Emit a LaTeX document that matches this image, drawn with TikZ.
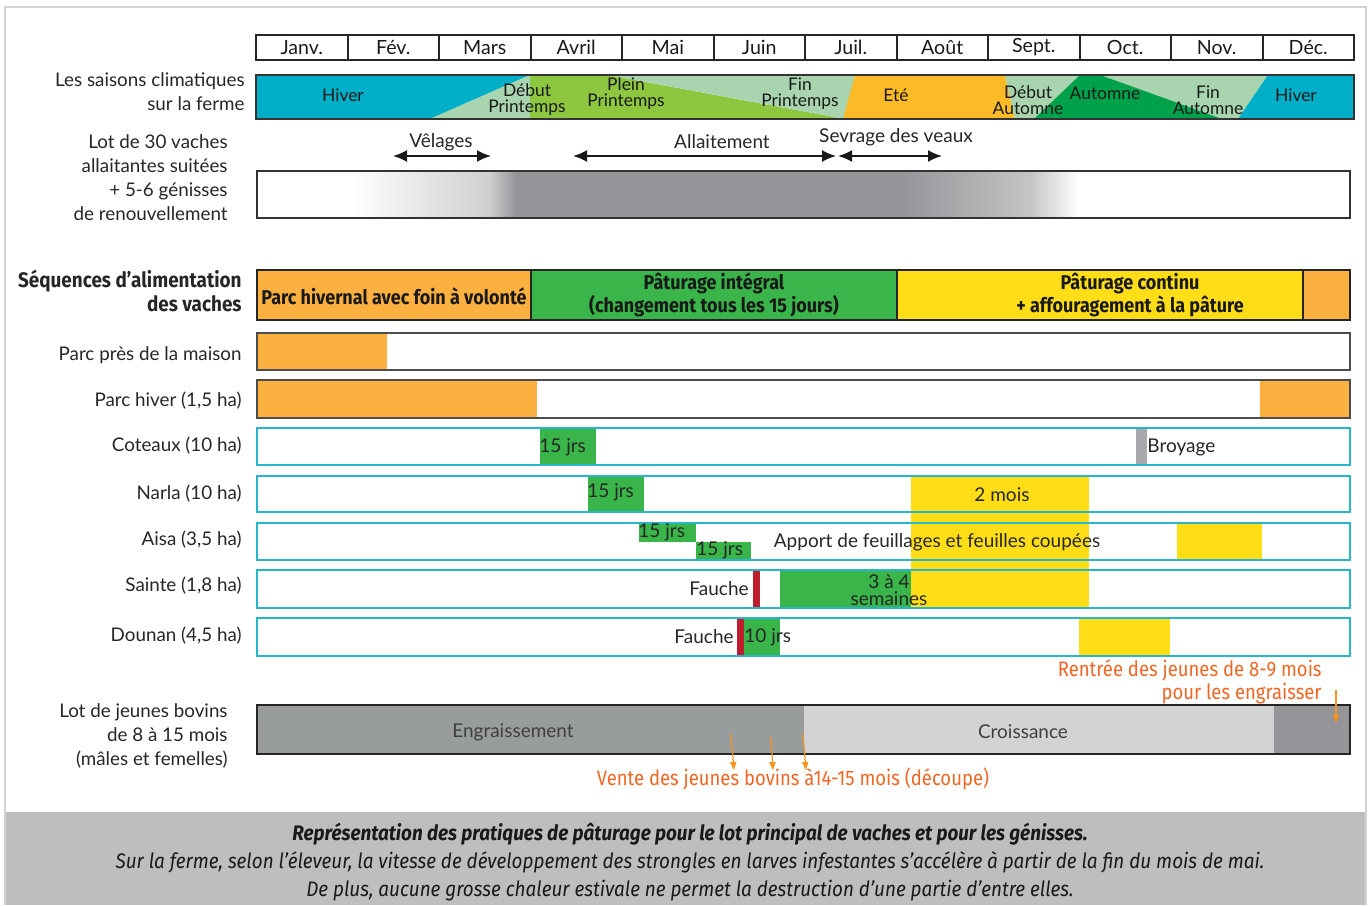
\documentclass[tikz,border=0pt]{standalone}
\usepackage{fontspec}
\setmainfont{Lato}
\newfontfamily\condfont[FakeStretch=0.9]{Fira Sans}
\newfontfamily\orfont[FakeStretch=0.88]{Fira Sans}
\newfontfamily\legfont[FakeStretch=0.9]{Fira Sans}
\usetikzlibrary{arrows.meta}

\definecolor{cyanHiver}{RGB}{0,174,199}
\definecolor{vertClair}{RGB}{168,213,176}
\definecolor{vertPrint}{RGB}{141,198,63}
\definecolor{vertAutom}{RGB}{0,161,75}
\definecolor{orangeEte}{RGB}{252,187,38}
\definecolor{orangeParc}{RGB}{251,176,64}
\definecolor{vertPat}{RGB}{57,181,74}
\definecolor{jaunePat}{RGB}{255,222,23}
\definecolor{grisBar}{RGB}{147,149,152}
\definecolor{grisFonce}{RGB}{153,156,156}
\definecolor{grisClair}{RGB}{209,211,212}
\definecolor{grisBroy}{RGB}{167,169,172}
\definecolor{bordCyan}{RGB}{40,182,204}
\definecolor{rougeFauche}{RGB}{190,30,45}
\definecolor{orangeTxt}{RGB}{241,101,34}
\definecolor{orangeFl}{RGB}{247,148,29}
\definecolor{grisLeg}{RGB}{188,190,192}

\begin{document}
\begin{tikzpicture}[x=0.5pt,y=-0.5pt,
  lbl/.style={align=right,anchor=east,inner sep=0pt,text=black!85,
    font=\fontsize{9.4}{12}\selectfont},
  saison/.style={align=center,inner sep=0pt,text=black!90,
    font=\fontsize{8.7}{8}\selectfont},
  etiq/.style={inner sep=0.5pt,text=black!85,font=\fontsize{9.5}{8.5}\selectfont},
  seq/.style={align=center,inner sep=0pt,text=black!90,
    font=\condfont\bfseries\fontsize{10}{11.5}\selectfont},
  fleche/.style={{Latex[length=7pt,width=6pt]}-{Latex[length=7pt,width=6pt]},
    line width=1pt,black!90},
  vente/.style={-{Latex[length=4.5pt,width=3.5pt]},orangeFl,line width=0.6pt},
  orangelbl/.style={inner sep=0pt,text=orangeTxt,font=\orfont\fontsize{10.5}{9}\selectfont},
  cadre/.style={draw=bordCyan,line width=0.9pt},
  cadregris/.style={draw=black!70,line width=0.9pt}]
\useasboundingbox (0,0) rectangle (1370,905);

% cadre general et bandeau de legende
\fill[grisLeg] (5,812) rectangle (1366,905);
\draw[grisClair,line width=1pt] (5,905) -- (5,7) -- (1366,7) -- (1366,905);

% les mois
\foreach \nom [count=\i from 0] in {Janv.,Fév.,Mars,Avril,Mai,Juin,Juil.,Août,Sept.,Oct.,Nov.,Déc.}
{
  \draw[black!85,line width=1pt] ({256+91.5*\i},35) rectangle ++(91.5,25);
  \node[inner sep=0pt,font=\fontsize{9.8}{10}\selectfont,text=black!90]
    (mois\i) at ({301.75+91.5*\i},47.5) {\nom};
}

% saisons climatiques
\fill[cyanHiver] (256,75) -- (530,75) -- (430,119) -- (256,119) -- cycle;
\fill[vertClair] (530,75) -- (430,119) -- (530,119) -- cycle;
\fill[vertPrint] (530,75) -- (608,75) -- (845,119) -- (530,119) -- cycle;
\fill[vertClair] (608,75) -- (855,75) -- (845,119) -- cycle;
\fill[orangeEte] (855,75) -- (1005,75) -- (1015,119) -- (843,119) -- cycle;
\fill[vertClair] (1005,75) -- (1268,75) -- (1238,119) -- (1015,119) -- cycle;
\fill[vertAutom] (1034,119) -- (1080,75) -- (1100,75) -- (1222,119) -- cycle;
\fill[cyanHiver] (1268,75) -- (1354,75) -- (1354,119) -- (1238,119) -- cycle;
\draw[black!80,line width=0.8pt] (256,75) rectangle (1354,119);

\node[saison] (hiver1) at (343,95) {Hiver};
\node[saison] (debPrint) at (527,100) {Début\\Printemps};
\node[saison] (pleinPrint) at (626,94) {Plein\\Printemps};
\node[saison] (finPrint) at (800,94) {Fin\\Printemps};
\node[saison] (ete) at (896,95) {Eté};
\node[saison] (debAutom) at (1028,100) {Début\\Automne};
\node[saison] (autom) at (1105,93) {Automne};
\node[saison] (finAutom) at (1208,100) {Fin\\Automne};
\node[saison] (hiver2) at (1296,95) {Hiver};

% etiquettes de gauche
\node[lbl] (lSaisons) at (245,92) {Les saisons climatiques\\sur la ferme};
\node[lbl] (lLot) at (228,178) {Lot de 30 vaches\\allaitantes suitées\\+ 5-6 génisses\\de renouvellement};
\node[lbl,font=\condfont\bfseries\fontsize{10.5}{12}\selectfont] (lSeq) at (242,291) {Séquences d’alimentation\\des vaches};
\node[lbl] (lMaison) at (242,355) {Parc près de la maison};
\node[lbl] (lHiver) at (242,401) {Parc hiver (1,5 ha)};
\node[lbl] (lCoteaux) at (242,446) {Coteaux (10 ha)};
\node[lbl] (lNarla) at (242,494) {Narla (10 ha)};
\node[lbl] (lAisa) at (242,540) {Aisa (3,5 ha)};
\node[lbl] (lSainte) at (242,586) {Sainte (1,8 ha)};
\node[lbl] (lDounan) at (242,636) {Dounan (4,5 ha)};
\node[lbl] (lJeunes) at (228,736) {Lot de jeunes bovins\\de 8 à 15 mois\\(mâles et femelles)};

% lot de vaches : velages, allaitement, sevrage
\shade[left color=white,right color=grisBar!45] (350,171) rectangle (490,218);
\shade[left color=grisBar!45,right color=grisBar] (489,171) rectangle (516,218);
\fill[grisBar] (515,171) rectangle (901,218);
\shade[left color=grisBar,right color=grisBar!55] (900,171) rectangle (1031,218);
\shade[left color=grisBar!55,right color=white] (1030,171) rectangle (1078,218);
\draw[black!80,line width=0.8pt] (257,171) rectangle (1350,218);

\coordinate (velA) at (393,156);
\coordinate (velB) at (491,156);
\coordinate (allA) at (573,156);
\coordinate (allB) at (836,156);
\coordinate (sevA) at (838,156);
\coordinate (sevB) at (942,156);
\draw[fleche] (velA) -- (velB);
\draw[fleche] (allA) -- (allB);
\draw[fleche] (sevA) -- (sevB);
\node[etiq] (velages) at (441,142) {Vêlages};
\node[etiq] (allaitement) at (722,142) {Allaitement};
\node[etiq] (sevrage) at (896,137) {Sevrage des veaux};

% sequences d'alimentation
\fill[orangeParc] (257,270) rectangle (531,320);
\fill[vertPat] (531,270) rectangle (897,320);
\fill[jaunePat] (897,270) rectangle (1303,320);
\fill[orangeParc] (1303,270) rectangle (1350,320);
\draw[black!85,line width=1.2pt] (257,270) rectangle (1350,320)
  (531,270) -- (531,320) (897,270) -- (897,320) (1303,270) -- (1303,320);
\node[seq] (sParc) at (394,296) {Parc hivernal avec foin à volonté};
\node[seq] (sInteg) at (714,295) {Pâturage intégral\\(changement tous les 15 jours)};
\node[seq] (sContinu) at (1130,295) {Pâturage continu\\+ affouragement à la pâture};

% parcs
\fill[white] (257,333) rectangle (1350,370);
\fill[orangeParc] (257,333) rectangle (387,370);
\draw[cadregris] (257,333) rectangle (1350,370);
\fill[orangeParc] (257,380) rectangle (537,418);
\fill[orangeParc] (1260,380) rectangle (1350,418);
\draw[cadregris] (257,380) rectangle (1350,418);

% paturage des parcelles
\fill[jaunePat] (911,476) rectangle (1089,608);
\fill[vertPat] (540,428) rectangle (596,465);
\fill[grisBroy] (1136,428) rectangle (1147,465);
\fill[vertPat] (588,476) rectangle (644,512);
\fill[vertPat] (639,523) rectangle (696,542);
\fill[vertPat] (696,542) rectangle (751,560);
\fill[jaunePat] (1177,523) rectangle (1262,560);
\fill[rougeFauche] (753,570) rectangle (760,608);
\fill[vertPat] (780,570) rectangle (911,608);
\fill[rougeFauche] (737,618) rectangle (744,656);
\fill[vertPat] (744,618) rectangle (780,656);
\fill[jaunePat] (1079,618) rectangle (1170,656);
\foreach \ya/\yb in {428/465,476/512,523/560,570/608,618/656}
  \draw[cadre] (257,\ya) rectangle (1350,\yb);

\node[etiq,anchor=west] (cot15) at (538,447) {15 jrs};
\node[etiq,anchor=west] (broyage) at (1146,447) {Broyage};
\node[etiq,anchor=west] (narla15) at (586,492) {15 jrs};
\node[etiq] (narla2m) at (1002,495) {2 mois};
\node[etiq,anchor=west] (aisa15a) at (637,532) {15 jrs};
\node[etiq,anchor=west] (aisa15b) at (695,550) {15 jrs};
\node[etiq] (apport) at (937,542) {Apport de feuillages et feuilles coupées};
\node[etiq,anchor=east] (faucheS) at (750,589) {Fauche};
\node[etiq,align=center] (semaines) at (889,590) {3 à 4\\semaines};
\node[etiq,anchor=east] (faucheD) at (735,637) {Fauche};
\node[etiq,anchor=west] (dounan10) at (743,637) {10 jrs};

% lot de jeunes bovins
\fill[grisFonce] (257,705) rectangle (804,754);
\fill[grisClair] (804,705) rectangle (1274,754);
\fill[grisBar] (1274,705) rectangle (1350,754);
\draw[black!85,line width=1.2pt] (257,705) rectangle (1350,754);
\node[etiq,text=black!75] (engrais) at (513,732) {Engraissement};
\node[etiq,text=black!75] (croiss) at (1023,732) {Croissance};

\node[orangelbl,align=right,anchor=east]
  (rentree) at (1322,682) {Rentrée des jeunes de 8-9 mois\\pour les engraisser};
\coordinate (rentA) at (1336,690);
\coordinate (rentB) at (1336,724);
\draw[vente] (rentA) -- (rentB);

\coordinate (v1a) at (731,734);
\coordinate (v1b) at (734,771);
\coordinate (v2a) at (771,737);
\coordinate (v2b) at (773,771);
\coordinate (v3a) at (803,734);
\coordinate (v3b) at (806,771);
\draw[vente] (v1a) -- (v1b);
\draw[vente] (v2a) -- (v2b);
\draw[vente] (v3a) -- (v3b);
\node[orangelbl] (venteTxt) at (793,779) {Vente des jeunes bovins à14-15 mois (découpe)};

% legende
\node[inner sep=0pt,text=black!90,font=\legfont\bfseries\itshape\fontsize{10.5}{10}\selectfont]
  (legTitre) at (690,834) {Représentation des pratiques de pâturage pour le lot principal de vaches et pour les génisses.};
\node[inner sep=0pt,text=black!90,font=\legfont\itshape\fontsize{10.5}{10}\selectfont]
  (leg1) at (690,862) {Sur la ferme, selon l’éleveur, la vitesse de développement des strongles en larves infestantes s’accélère à partir de la fin du mois de mai.};
\node[inner sep=0pt,text=black!90,font=\legfont\itshape\fontsize{10.5}{10}\selectfont]
  (leg2) at (690,891) {De plus, aucune grosse chaleur estivale ne permet la destruction d’une partie d’entre elles.};
\end{tikzpicture}
\end{document}
